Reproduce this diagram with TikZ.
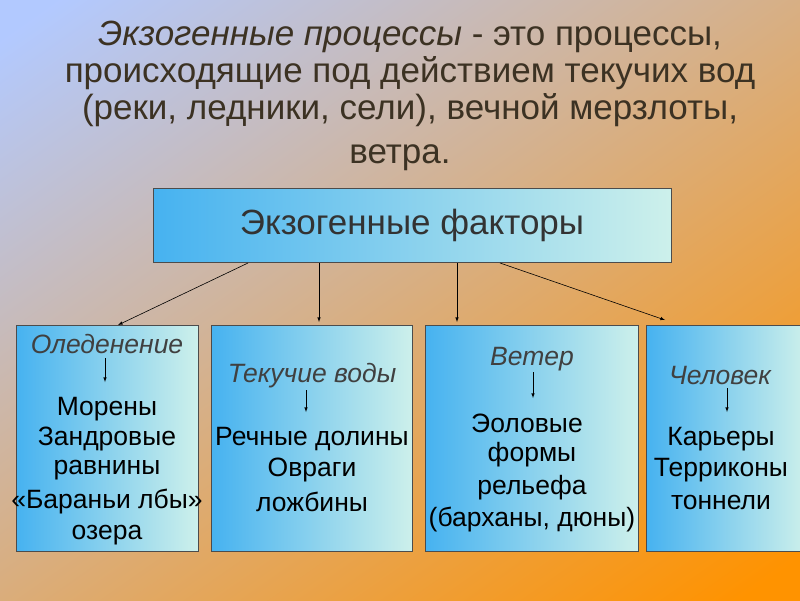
\documentclass[tikz,border=0pt]{standalone}
\usepackage{fontspec}
\setmainfont{Liberation Sans}
\definecolor{bxl}{RGB}{70,178,240}
\definecolor{bxr}{RGB}{205,240,235}
\definecolor{ttl}{RGB}{60,50,35}
\begin{document}
\begin{tikzpicture}[x=1pt,y=-1pt,
 box/.style={draw=black!70,line width=0.6pt,left color=bxl,right color=bxr},
 tx/.style={font=\fontsize{26.5}{30}\selectfont,text=black,inner sep=0},
 hd/.style={font=\fontsize{26.5}{30}\selectfont\itshape,text=black!75,inner sep=0},
 tt/.style={inner sep=0,text=ttl,align=center,font=\fontsize{35}{37}\selectfont},
 ar/.style={-latex,line width=0.6pt}]
\useasboundingbox (0,0) rectangle (800,600);
\shade[top color=cyan!30!blue!30!white, middle color=red!18!blue!15!white, bottom color=orange!85!yellow, shading angle=35] (-100,-100) rectangle (900,700);
\node[tt] (title) at (410,74)
 {\textit{Экзогенные процессы} - это процессы,\\происходящие под действием текучих вод\\(реки, ледники, сели), вечной мерзлоты,};
\node[tt] (title2) at (400,158) {ветра.};
\node[box,minimum width=518,minimum height=74,font=\fontsize{35}{38}\selectfont,text=black!80] (top) at (412,225) {Экзогенные факторы};
\node[box,minimum width=182,minimum height=226] (b1) at (107,438) {};
\node[box,minimum width=201,minimum height=226] (b2) at (311.5,438) {};
\node[box,minimum width=213,minimum height=226] (b3) at (531.5,438) {};
\node[box,minimum width=160,minimum height=226] (b4) at (726,438) {};
\coordinate (t1) at (248,263); \coordinate (t2) at (319,263); \coordinate (t3) at (457,263); \coordinate (t4) at (500,263);
\coordinate (e1) at (118,325); \coordinate (e2) at (319,322); \coordinate (e3) at (457,322); \coordinate (e4) at (665,320);
\draw[ar] (t1)--(e1); \draw[ar] (t2)--(e2); \draw[ar] (t3)--(e3); \draw[ar] (t4)--(e4);
% box1
\node[hd] (h1) at (107,344) {Оледенение};
\coordinate (a1) at (105,358); \coordinate (c1) at (105,382); \draw[ar] (a1)--(c1);
\node[tx] (l11) at (107,409) {Морены};
\node[tx] (l12) at (107,439) {Зандровые};
\node[tx] (l13) at (107,470) {равнины};
\node[tx] (l14) at (107,502) {«Бараньи лбы»};
\node[tx] (l15) at (107,535) {озера};
% box2
\node[hd] (h2) at (312,376) {Текучие воды};
\coordinate (a2) at (306,390); \coordinate (c2) at (306,412); \draw[ar] (a2)--(c2);
\node[tx] (l21) at (312,439) {Речные долины};
\node[tx] (l22) at (312,470) {Овраги};
\node[tx] (l23) at (312,502) {ложбины};
% box3
\node[hd] (h3) at (532,359) {Ветер};
\coordinate (a3) at (533,372); \coordinate (c3) at (533,398); \draw[ar] (a3)--(c3);
\node[tx] (l31) at (527,423) {Эоловые};
\node[tx] (l32) at (532,455) {формы};
\node[tx] (l33) at (532,488) {рельефа};
\node[tx] (l34) at (532,520) {(барханы, дюны)};
% box4
\node[hd] (h4) at (720,376) {Человек};
\coordinate (a4) at (727,388); \coordinate (c4) at (727,412); \draw[ar] (a4)--(c4);
\node[tx] (l41) at (721,439) {Карьеры};
\node[tx] (l42) at (721,470) {Терриконы};
\node[tx] (l43) at (721,502) {тоннели};
\end{tikzpicture}
\end{document}
